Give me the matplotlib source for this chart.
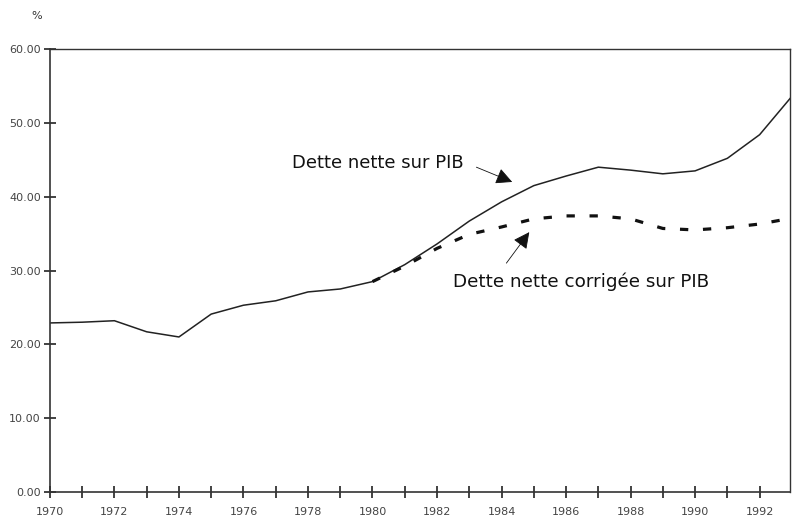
import matplotlib
matplotlib.use('Agg')
import matplotlib.pyplot as plt
import numpy as np

# data
years = list(range(1970, 1994))
dette_nette = [22.9, 23.0, 23.2, 21.7, 21.0, 24.1, 25.3, 25.9, 27.1, 27.5, 28.5,
               30.8, 33.6, 36.7, 39.3, 41.5, 42.8, 44.0, 43.6, 43.1, 43.5, 45.2, 48.4, 53.6]
years_corr = list(range(1980, 1994))
dette_corrigee = [28.5, 30.6, 33.0, 34.9, 35.9, 37.0, 37.4, 37.4, 37.0, 35.7, 35.5, 35.8, 36.3, 37.1]

yticks = [0, 10, 20, 30, 40, 50, 60]
xlabels = list(range(1970, 1993, 2))

plt.rcParams['font.family'] = ['DejaVu Sans']

fig = plt.figure(figsize=(7.92, 5.22), dpi=100)
ax = fig.add_axes([0.063, 0.0575, 0.934, 0.8485])

ax.plot(years, dette_nette, color='#222222', lw=1.1)
ax.plot(years_corr, dette_corrigee, color='#111111', lw=2.3, linestyle=(0, (2.6, 4.6)))

ax.set_xlim(1970, 1992.93)
ax.set_ylim(0, 60)

ax.set_yticks(yticks)
ax.set_yticklabels(['%.2f' % v for v in yticks])
ax.set_xticks(years[:-1])
ax.set_xticklabels([str(y) if y in xlabels else '' for y in years[:-1]])

ax.tick_params(axis='both', direction='inout', length=9, width=1.2, colors='#222222',
               labelsize=8, labelcolor='#444444')
ax.tick_params(axis='x', pad=6)
ax.tick_params(axis='y', pad=2)

for s in ax.spines.values():
    s.set_color('#333333')
    s.set_linewidth(1.2)
ax.spines['top'].set_linewidth(1.0)
ax.spines['right'].set_linewidth(1.0)

ax.text(-0.018, 1.075, '%', transform=ax.transAxes, fontsize=8, color='#333333',
        ha='center', va='center')

arrow = dict(arrowstyle='-|>,head_length=1.0,head_width=0.5',
             color='#111111', lw=0.6, shrinkA=0, shrinkB=0)

ax.text(1977.52, 44.5, 'Dette nette sur PIB', fontsize=13.0, color='#111111',
        ha='left', va='center')
ax.annotate('', xy=(1984.33, 42.0), xytext=(1983.22, 44.0), arrowprops=arrow)

ax.text(1982.48, 28.5, 'Dette nette corrigée sur PIB', fontsize=13.2, color='#111111',
        ha='left', va='center')
ax.annotate('', xy=(1984.86, 35.2), xytext=(1984.15, 31.0), arrowprops=arrow)

fig.savefig('out.png', dpi=100)
